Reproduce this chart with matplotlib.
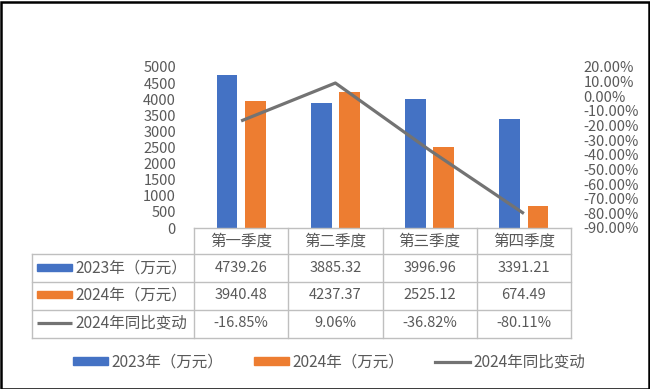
import matplotlib
matplotlib.use('Agg')
import matplotlib.pyplot as plt
from matplotlib.lines import Line2D
from matplotlib.patches import Rectangle, Patch
import numpy as np

categories = ['第一季度', '第二季度', '第三季度', '第四季度']
series_names = ['2023年（万元）', '2024年（万元）', '2024年同比变动']
sales_2023 = [4739.26, 3885.32, 3996.96, 3391.21]
sales_2024 = [3940.48, 4237.37, 2525.12, 674.49]
yoy_2024 = [-16.85, 9.06, -36.82, -80.11]
left_ticks = list(range(0, 5001, 500))
right_ticks = list(range(-90, 21, 10))

BLUE = '#4472C4'
ORANGE = '#ED7D31'
GRAY = '#737373'
TXT = '#595959'
GRID = '#BFBFBF'
FS = 10.5
FS_CJK = 11.2

plt.rcParams['font.family'] = ['Noto Sans CJK SC', 'DejaVu Sans']

W, H = 650, 389
fig = plt.figure(figsize=(W / 100, H / 100), dpi=100)


def rect(l, t, r, b):
    return [l / W, 1 - b / H, (r - l) / W, (b - t) / H]


# main chart
ax = fig.add_axes(rect(194, 67, 571, 228))
x = np.arange(len(categories))
ax.bar(x - 0.149, sales_2023, 0.22, color=BLUE, zorder=2)
ax.bar(x + 0.149, sales_2024, 0.22, color=ORANGE, zorder=2)
ax.set_xlim(-0.5, len(categories) - 0.5)
ax.set_ylim(0, 5000)
ax.set_yticks(left_ticks)
ax.set_xticks([])
ax.tick_params(axis='y', length=0, pad=13, labelsize=FS, labelcolor=TXT)
for s in ax.spines.values():
    s.set_visible(False)

ax2 = ax.twinx()
ax2.plot(x, yoy_2024, color=GRAY, lw=2.3, solid_capstyle='butt', zorder=3)
ax2.set_ylim(-90, 20)
ax2.set_yticks(right_ticks)
ax2.set_yticklabels([f'{v:.2f}%' for v in right_ticks])
ax2.tick_params(axis='y', length=0, pad=9, labelsize=FS, labelcolor=TXT)
for s in ax2.spines.values():
    s.set_visible(False)

# data table (x in category units, y in pixel rows)
cw = (571 - 194) / len(categories)
tax = fig.add_axes(rect(32, 228, 571, 338))
x_left = -0.5 - (194 - 32) / cw
tax.set_xlim(x_left, len(categories) - 0.5)
tax.set_ylim(338, 228)
tax.axis('off')


def px(p):
    return (p - 194) / cw - 0.5


row_lines = [254, 282, 310, 338]
kw = dict(color=GRID, lw=1.0, clip_on=False)
tax.plot([-0.5, len(categories) - 0.5], [228, 228], **kw)
for yy in row_lines:
    tax.plot([x_left, len(categories) - 0.5], [yy, yy], **kw)
for i in range(len(categories) + 1):
    tax.plot([i - 0.5, i - 0.5], [228, 338], **kw)
tax.plot([x_left, x_left], [254, 338], **kw)

for i, c in enumerate(categories):
    tax.text(i, 241, c, ha='center', va='center', fontsize=FS_CJK, color=TXT)

row_y = [268, 295, 323]
rows = [
    [f'{v:.2f}' for v in sales_2023],
    [f'{v:.2f}' for v in sales_2024],
    [f'{v:.2f}%' for v in yoy_2024],
]
for r, (yy, vals) in enumerate(zip(row_y, rows)):
    for i, v in enumerate(vals):
        tax.text(i, yy, v, ha='center', va='center', fontsize=FS, color=TXT)
    if r < 2:
        tax.add_patch(Rectangle((px(37), yy - 3.5), px(72) - px(37), 7,
                                color=[BLUE, ORANGE][r], clip_on=False))
    else:
        tax.plot([px(37), px(72)], [yy, yy], color=GRAY, lw=2.3,
                 solid_capstyle='butt', clip_on=False)
    tax.text(px(75), yy, series_names[r], ha='left', va='center',
             fontsize=FS_CJK, color=TXT)

# legend
handles = [Patch(color=BLUE), Patch(color=ORANGE),
           Line2D([0], [0], color=GRAY, lw=2.3)]
leg = fig.legend(handles, series_names, ncol=3, loc='center',
                 bbox_to_anchor=(329 / W, 1 - 362 / H), frameon=False,
                 fontsize=FS_CJK, labelcolor=TXT, handlelength=2.25,
                 handleheight=0.45, handletextpad=0.2, columnspacing=2.0)

# outer border
fig.patches.append(Rectangle((0.5 / W, 0.5 / H), 1 - 2 / W, 1 - 2 / H,
                             transform=fig.transFigure, fill=False,
                             edgecolor='#000000', lw=1.8))

fig.savefig('out.png', dpi=100, facecolor='white')
